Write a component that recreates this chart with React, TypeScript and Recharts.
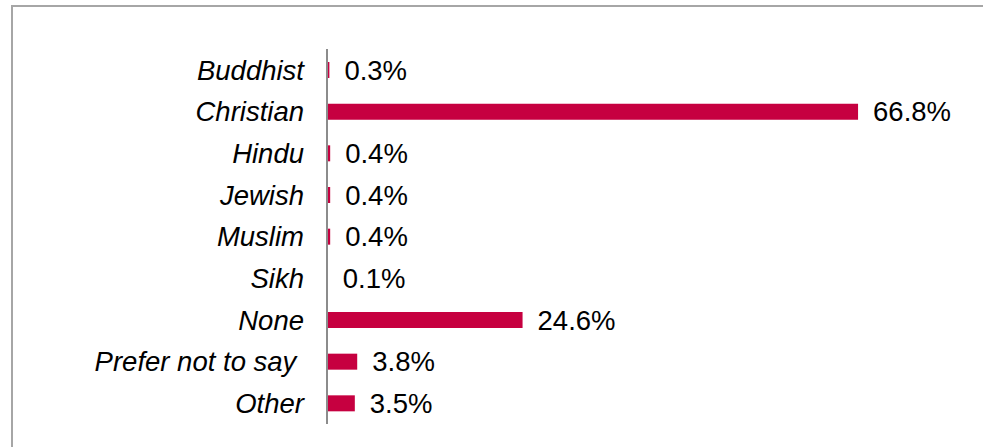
import React from 'react';
import { BarChart, Bar, XAxis, YAxis, LabelList } from 'recharts';

const categories = ['Buddhist', 'Christian', 'Hindu', 'Jewish', 'Muslim', 'Sikh', 'None', 'Prefer not to say ', 'Other'];
const shares = [0.3, 66.8, 0.4, 0.4, 0.4, 0.1, 24.6, 3.8, 3.5];

const data = categories.map((c, i) => ({ name: c, value: shares[i] }));

const FONT = '"Liberation Sans", Arial, sans-serif';

const CategoryTick = (props: any) => {
  const { x, y, payload } = props;
  return (
    <text
      x={x - 15}
      y={y}
      dy="0.355em"
      textAnchor="end"
      fontFamily={FONT}
      fontSize={27.5}
      fontStyle="italic"
      fill="#000"
      style={{ whiteSpace: 'pre' }}
    >
      {payload.value}
    </text>
  );
};

export default function App() {
  return (
    <div
      style={{
        position: 'absolute',
        left: 0,
        top: 0,
        width: 983,
        height: 447,
        overflow: 'hidden',
        background: '#fff',
      }}
    >
      <div
        style={{
          position: 'absolute',
          left: 11,
          top: 5,
          width: 1100,
          height: 600,
          borderTop: '2px solid #a6a6a6',
          borderLeft: '2px solid #a6a6a6',
          boxSizing: 'border-box',
        }}
      />
      <div style={{ position: 'absolute', left: 0, top: 0 }}>
        <BarChart
          width={983}
          height={447}
          data={data}
          layout="vertical"
          margin={{ top: 49, right: 20, bottom: 23, left: 0 }}
          barCategoryGap={0}
        >
          <XAxis type="number" domain={[0, 80]} hide />
          <YAxis
            type="category"
            dataKey="name"
            width={327}
            axisLine={{ stroke: '#8c8c8c', strokeWidth: 2 }}
            tickLine={false}
            tick={<CategoryTick />}
            interval={0}
          />
          <Bar dataKey="value" fill="#C60040" barSize={16} isAnimationActive={false}>
            <LabelList
              dataKey="value"
              position="right"
              offset={15}
              formatter={(v: any) => `${Number(v).toFixed(1)}%`}
              style={{ fontFamily: FONT, fontSize: 27.5, fill: '#000' }}
            />
          </Bar>
        </BarChart>
      </div>
    </div>
  );
}
